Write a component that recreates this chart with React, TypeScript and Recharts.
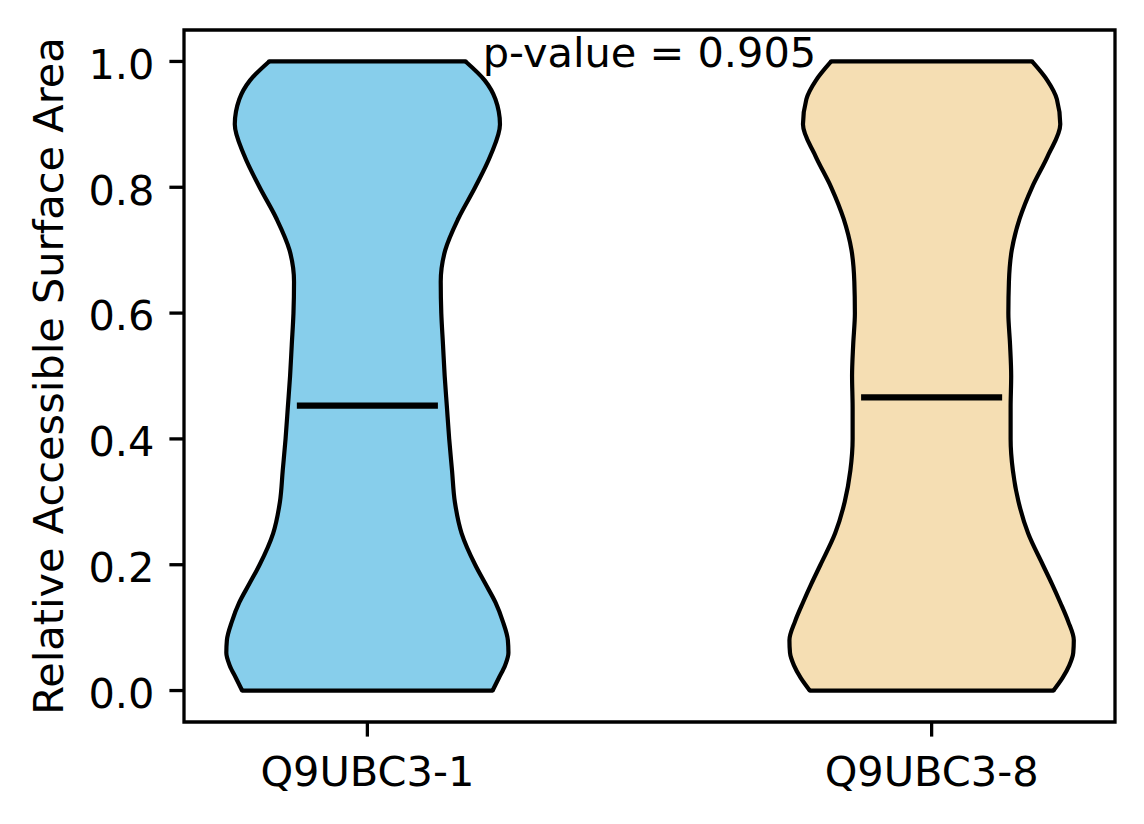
import React from 'react';
import {
  ComposedChart,
  Area,
  XAxis,
  YAxis,
  ReferenceLine,
  ReferenceArea,
  ReferenceDot,
} from 'recharts';

// ---- data ----
const categories = ['Q9UBC3-1', 'Q9UBC3-8'];
const positions = [1, 2];
const yTicks = [0, 0.2, 0.4, 0.6, 0.8, 1.0];
const xTicks = [1, 2];

// y levels at which the violin half-widths were read
const yLevels = [
  0, 0.02, 0.04, 0.06, 0.08, 0.11, 0.14, 0.17, 0.2, 0.25, 0.3, 0.35, 0.4, 0.45,
  0.5, 0.55, 0.6, 0.65, 0.7, 0.75, 0.8, 0.85, 0.9, 0.94, 0.97, 1.0,
];
// half-widths (x units) of violin 1 (Q9UBC3-1)
const halfWidth1 = [
  0.222, 0.233, 0.244, 0.25, 0.249, 0.24, 0.227, 0.209, 0.191, 0.167, 0.155,
  0.15, 0.145, 0.141, 0.137, 0.134, 0.131, 0.13, 0.138, 0.161, 0.191, 0.218,
  0.235, 0.227, 0.208, 0.174,
];
// half-widths (x units) of violin 2 (Q9UBC3-8)
const halfWidth2 = [
  0.216, 0.232, 0.244, 0.251, 0.252, 0.242, 0.228, 0.213, 0.197, 0.171, 0.154,
  0.144, 0.14, 0.14, 0.141, 0.139, 0.136, 0.137, 0.142, 0.156, 0.178, 0.206,
  0.228, 0.222, 0.205, 0.178,
];
const means = [0.453, 0.466];
const meanHalfWidth = 0.125;
const pValueLabel = 'p-value = 0.905';
const yLabel = 'Relative Accessible Surface Area';

// ---- styles ----
const colors = ['#87CEEB', '#F5DEB3'];
const FONT = 'DejaVu Sans';
const FS = 41.5;
const LW = 4.2;
const SPINE = 3.3;

const widths = [halfWidth1, halfWidth2];

const tableData = yLevels.map((y, i) => ({
  y,
  v1: [positions[0] - halfWidth1[i], positions[0] + halfWidth1[i]],
  v2: [positions[1] - halfWidth2[i], positions[1] + halfWidth2[i]],
}));

const YTick = (props: any) => {
  const { x, y, payload } = props;
  return (
    <text
      x={x - 15}
      y={y + 17.3}
      textAnchor="end"
      fontFamily={FONT}
      fontSize={FS}
      fill="#000"
    >
      {Number(payload.value).toFixed(1)}
    </text>
  );
};

const XTick = (props: any) => {
  const { x, y, payload } = props;
  return (
    <text
      x={x}
      y={y + 49}
      textAnchor="middle"
      fontFamily={FONT}
      fontSize={FS}
      fill="#000"
    >
      {categories[positions.indexOf(payload.value)]}
    </text>
  );
};

const YLabel = (props: any) => {
  const vb = props.viewBox || { x: 0, y: 30, width: 184, height: 692 };
  const cx = vb.x + 63.3;
  const cy = vb.y + vb.height / 2;
  return (
    <text
      x={cx}
      y={cy}
      transform={`rotate(-90, ${cx}, ${cy})`}
      textAnchor="middle"
      fontFamily={FONT}
      fontSize={FS}
      fill="#000"
    >
      {yLabel}
    </text>
  );
};

const PLabel = (props: any) => {
  const vb = props.viewBox;
  const cx = vb.x + (vb.width || 0) / 2;
  const cy = vb.y + (vb.height || 0) / 2;
  return (
    <text
      x={cx}
      y={cy + 5.5}
      textAnchor="middle"
      fontFamily={FONT}
      fontSize={FS}
      fill="#000"
    >
      {pValueLabel}
    </text>
  );
};

export default function App() {
  return (
    <div style={{ position: 'absolute', left: 0, top: 0, background: '#fff' }}>
      <ComposedChart
        width={1144}
        height={824}
        data={tableData}
        layout="vertical"
        margin={{ top: 30, right: 29, bottom: 0, left: 0 }}
        style={{ fontFamily: FONT }}
      >
        <XAxis
          type="number"
          domain={[0.675, 2.325]}
          ticks={xTicks}
          allowDataOverflow
          axisLine={false}
          tickLine={{ stroke: '#000', strokeWidth: SPINE }}
          tickSize={14.6}
          tickMargin={0}
          height={102}
          tick={<XTick />}
          interval={0}
        />
        <YAxis
          type="number"
          dataKey="y"
          domain={[-0.05, 1.05]}
          ticks={yTicks}
          allowDataOverflow
          reversed
          axisLine={false}
          tickLine={{ stroke: '#000', strokeWidth: SPINE }}
          tickSize={14.6}
          tickMargin={0}
          width={184}
          tick={<YTick />}
          interval={0}
          label={<YLabel />}
        />
        <Area
          dataKey="v1"
          type="monotone"
          fill={colors[0]}
          fillOpacity={1}
          stroke="#000"
          strokeWidth={LW}
          isAnimationActive={false}
          dot={false}
          activeDot={false}
        />
        <Area
          dataKey="v2"
          type="monotone"
          fill={colors[1]}
          fillOpacity={1}
          stroke="#000"
          strokeWidth={LW}
          isAnimationActive={false}
          dot={false}
          activeDot={false}
        />
        {positions.map((p, k) => {
          const hw = widths[k];
          const last = hw.length - 1;
          return (
            <React.Fragment key={`caps-${k}`}>
              <ReferenceLine
                segment={[
                  { x: p - hw[0], y: yLevels[0] },
                  { x: p + hw[0], y: yLevels[0] },
                ]}
                stroke="#000"
                strokeWidth={LW}
                strokeLinecap="round"
              />
              <ReferenceLine
                segment={[
                  { x: p - hw[last], y: yLevels[last] },
                  { x: p + hw[last], y: yLevels[last] },
                ]}
                stroke="#000"
                strokeWidth={LW}
                strokeLinecap="round"
              />
              <ReferenceLine
                segment={[
                  { x: p - meanHalfWidth, y: means[k] },
                  { x: p + meanHalfWidth, y: means[k] },
                ]}
                stroke="#000"
                strokeWidth={6.2}
              />
            </React.Fragment>
          );
        })}
        <ReferenceArea
          x1={0.675}
          x2={2.325}
          y1={-0.05}
          y2={1.05}
          fill="none"
          fillOpacity={0}
          stroke="#000"
          strokeWidth={SPINE}
        />
        <ReferenceDot
          x={1.5}
          y={1.0}
          r={1}
          fill="none"
          stroke="none"
          label={<PLabel />}
        />
      </ComposedChart>
    </div>
  );
}
